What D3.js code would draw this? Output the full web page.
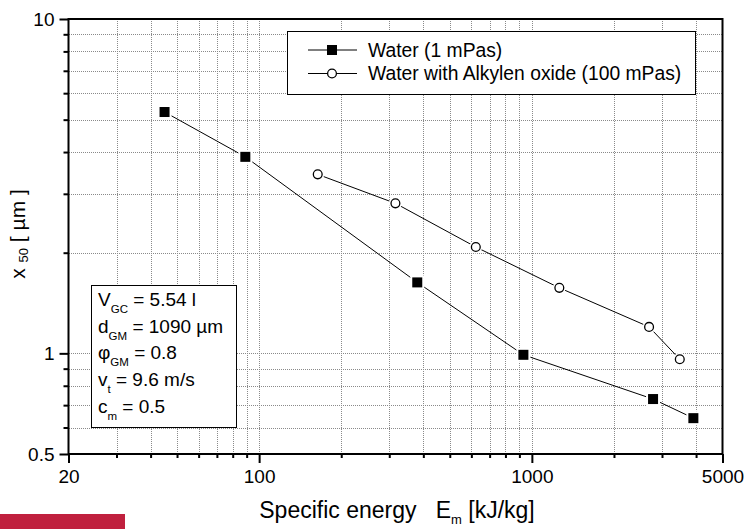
<!DOCTYPE html>
<html>
<head>
<meta charset="utf-8">
<script src="https://cdn.jsdelivr.net/npm/d3@7"></script>
<style>
  body { margin: 0; background: #fff; }
  svg { display: block; font-family: "Liberation Sans", Arial, sans-serif; }
  .grid line { stroke: #8a8a8a; stroke-width: 1; stroke-dasharray: 1,1; shape-rendering: crispEdges; }
  .axis path { display: none; }
  .axis line { stroke: #000; stroke-width: 2; }
  .axis text { font-size: 19px; fill: #000; font-family: "Liberation Sans", Arial, sans-serif; }
</style>
</head>
<body>
<div id="chart"></div>
<script>
// Data
var energyWater = [45, 89, 380, 931, 2782, 3910];
var x50Water = [5.27, 3.87, 1.63, 0.99, 0.73, 0.64];
var energyAlkylen = [164, 316, 623, 1261, 2690, 3486];
var x50Alkylen = [3.43, 2.81, 2.08, 1.57, 1.20, 0.96];

var xMajorTicks = [20, 100, 1000, 5000];
var xMinorTicks = [30, 40, 50, 60, 70, 80, 90, 200, 300, 400, 500, 600, 700, 800, 900, 2000, 3000, 4000];
var yMajorTicks = [0.5, 1, 10];
var yMinorTicks = [0.6, 0.7, 0.8, 0.9, 2, 3, 4, 5, 6, 7, 8, 9];

var legendLabels = ["Water (1 mPas)", "Water with Alkylen oxide (100 mPas)"];
var paramLines = [
  ["V", "GC", " = 5.54 l"],
  ["d", "GM", " = 1090 \u00b5m"],
  ["\u03c6", "GM", " = 0.8"],
  ["v", "t", " = 9.6 m/s"],
  ["c", "m", " = 0.5"]
];

(function() {
  var W = 747, H = 529;
  var pLeft = 68.5, pRight = 722.5, pTop = 19, pBottom = 454;

  var svg = d3.select("#chart").append("svg")
    .attr("width", W).attr("height", H);

  var x = d3.scaleLog().domain([20, 5000]).range([pLeft, pRight]);
  var y = d3.scaleLog().domain([0.5, 10]).range([pBottom, pTop]);

  // grid
  var grid = svg.append("g").attr("class", "grid");
  grid.selectAll(".gx")
    .data(xMinorTicks.concat([100, 1000]))
    .enter().append("line")
    .attr("x1", function(d) { return Math.round(x(d)) + 0.5; })
    .attr("x2", function(d) { return Math.round(x(d)) + 0.5; })
    .attr("y1", pTop).attr("y2", pBottom);
  grid.selectAll(".gy")
    .data(yMinorTicks.concat([1]))
    .enter().append("line")
    .attr("y1", function(d) { return Math.round(y(d)) + 0.5; })
    .attr("y2", function(d) { return Math.round(y(d)) + 0.5; })
    .attr("x1", pLeft).attr("x2", pRight);

  // axes (major with labels, minor short ticks)
  svg.append("g").attr("class", "axis")
    .attr("transform", "translate(0," + pBottom + ")")
    .call(d3.axisBottom(x).tickValues(xMajorTicks).tickSize(9).tickPadding(7)
      .tickFormat(d3.format("d")));
  svg.append("g").attr("class", "axis")
    .attr("transform", "translate(0," + pBottom + ")")
    .call(d3.axisBottom(x).tickValues(xMinorTicks).tickSize(4).tickFormat(""));
  svg.append("g").attr("class", "axis")
    .attr("transform", "translate(" + pLeft + ",0)")
    .call(d3.axisLeft(y).tickValues(yMajorTicks).tickSize(9).tickPadding(5)
      .tickFormat(function(d) { return d < 1 ? "0.5" : d3.format("d")(d); }));
  svg.append("g").attr("class", "axis")
    .attr("transform", "translate(" + pLeft + ",0)")
    .call(d3.axisLeft(y).tickValues(yMinorTicks).tickSize(5).tickFormat(""));

  // frame
  svg.append("rect")
    .attr("x", pLeft).attr("y", pTop)
    .attr("width", pRight - pLeft).attr("height", pBottom - pTop)
    .attr("fill", "none").attr("stroke", "#000").attr("stroke-width", 2);

  // series
  var line = d3.line()
    .x(function(d) { return x(d[0]); })
    .y(function(d) { return y(d[1]); });

  var water = d3.zip(energyWater, x50Water);
  var alkylen = d3.zip(energyAlkylen, x50Alkylen);

  svg.append("path").datum(water)
    .attr("d", line).attr("fill", "none").attr("stroke", "#000").attr("stroke-width", 1);
  svg.append("path").datum(alkylen)
    .attr("d", line).attr("fill", "none").attr("stroke", "#000").attr("stroke-width", 1);

  var square = function(g, cx, cy) {
    g.append("rect").attr("x", cx - 7).attr("y", cy - 7).attr("width", 14).attr("height", 14)
      .attr("fill", "#fff");
    g.append("rect").attr("x", cx - 5).attr("y", cy - 5).attr("width", 10).attr("height", 10)
      .attr("fill", "#000");
  };
  var circle = function(g, cx, cy) {
    g.append("circle").attr("cx", cx).attr("cy", cy).attr("r", 6.5).attr("fill", "#fff");
    g.append("circle").attr("cx", cx).attr("cy", cy).attr("r", 4.4)
      .attr("fill", "#fff").attr("stroke", "#000").attr("stroke-width", 1.3);
  };

  var marks = svg.append("g");
  water.forEach(function(d) { square(marks, x(d[0]), y(d[1])); });
  alkylen.forEach(function(d) { circle(marks, x(d[0]), y(d[1])); });

  // legend
  var legend = svg.append("g");
  legend.append("rect")
    .attr("x", 287.5).attr("y", 31.5).attr("width", 408).attr("height", 63)
    .attr("fill", "#fff").attr("stroke", "#000").attr("stroke-width", 1);
  legendLabels.forEach(function(label, i) {
    var cy = 50 + i * 23.5;
    legend.append("line").attr("x1", 308).attr("x2", 357).attr("y1", cy).attr("y2", cy)
      .attr("stroke", "#000").attr("stroke-width", 1);
    if (i === 0) {
      legend.append("rect").attr("x", 327).attr("y", cy - 5).attr("width", 10).attr("height", 10)
        .attr("fill", "#000");
    } else {
      legend.append("circle").attr("cx", 332).attr("cy", cy).attr("r", 4.4)
        .attr("fill", "#fff").attr("stroke", "#000").attr("stroke-width", 1.3);
    }
    legend.append("text").attr("x", 368).attr("y", cy + 6.5)
      .attr("font-size", 19.3).text(label);
  });

  // parameter box
  var box = svg.append("g");
  box.append("rect")
    .attr("x", 91.5).attr("y", 285.5).attr("width", 145).attr("height", 142)
    .attr("fill", "#fff").attr("stroke", "#000").attr("stroke-width", 1);
  paramLines.forEach(function(p, i) {
    var t = box.append("text").attr("x", 98).attr("y", 306 + i * 26.7).attr("font-size", 19);
    t.append("tspan").text(p[0]);
    t.append("tspan").attr("font-size", 11.5).attr("dy", 7).text(p[1]);
    t.append("tspan").attr("dy", -7).text(p[2]);
  });

  // axis titles
  var xt = svg.append("text").attr("x", 397).attr("y", 518).attr("text-anchor", "middle")
    .attr("font-size", 23);
  xt.append("tspan").text("Specific energy\u00a0\u00a0\u00a0E");
  xt.append("tspan").attr("font-size", 13).attr("dy", 6).text("m");
  xt.append("tspan").attr("dy", -6).text(" [kJ/kg]");

  var yt = svg.append("text").attr("transform", "translate(25,234) rotate(-90)")
    .attr("text-anchor", "middle").attr("font-size", 21);
  yt.append("tspan").text("x ");
  yt.append("tspan").attr("font-size", 13).attr("dy", 3).text("50");
  yt.append("tspan").attr("dy", -3).text(" [ \u00b5m ]");

  // red bar bottom-left
  svg.append("rect").attr("x", 0).attr("y", 514).attr("width", 125).attr("height", 15)
    .attr("fill", "#c0203e");
})();
</script>
</body>
</html>
